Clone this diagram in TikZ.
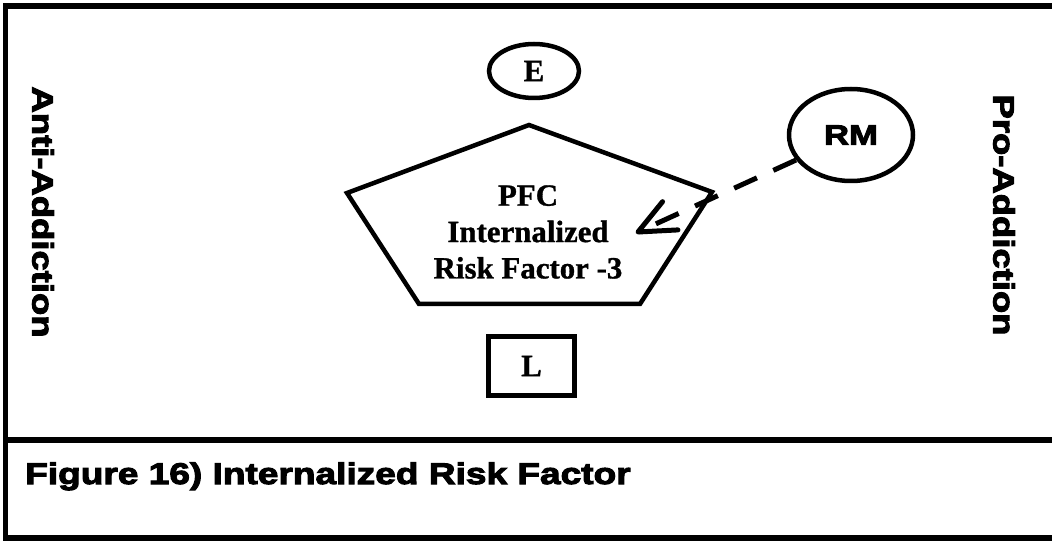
\documentclass[tikz,border=0pt]{standalone}
\usepackage{fontspec}
\usetikzlibrary{shapes.geometric}
\newfontfamily\heavyfont[FakeStretch=1.24,FakeBold=3.5]{Liberation Sans}
\newfontfamily\tnrfont[FakeBold=1]{Liberation Serif}
\begin{document}
\begin{tikzpicture}[x=1bp,y=-1bp,
  frame/.style={line width=5.5bp},
  shapeline/.style={draw, line width=4.5bp},
  seriflabel/.style={font=\tnrfont\bfseries\fontsize{31}{36.5}\selectfont, inner sep=0pt},
  sanslabel/.style={font=\heavyfont\bfseries\fontsize{29.5}{34}\selectfont, inner sep=0pt},
  dashconn/.style={line width=5bp, dash pattern=on 25bp off 18bp},
  barb/.style={line width=5bp, line cap=round, line join=round},
]
\useasboundingbox (0,0) rectangle (1052,541);
% frame
\draw[frame] (1052,6) -- (5.5,6) -- (5.5,538) -- (1052,538);
\draw[frame] (5.5,440) -- (1052,440);
% pentagon
\draw[shapeline, line join=miter] (529,125) -- (712,192) -- (640,304) -- (419,304) -- (347,193) -- cycle;
\node[seriflabel, align=center] (pfc) at (528,232) {PFC\\Internalized\\Risk Factor -3};
% E and L
\node[ellipse, shapeline, minimum width=90bp, minimum height=54bp, seriflabel] (E) at (534,71) {E};
\node[draw, line width=5bp, minimum width=86bp, minimum height=58bp, seriflabel] (L) at (531.5,366) {L};
% RM
\node[ellipse, shapeline, minimum width=124bp, minimum height=92bp, inner sep=0pt,
  font=\heavyfont\bfseries\fontsize{28}{32}\selectfont] (RM) at (851,135) {RM};
\coordinate (tip) at (638,232);
\draw[dashconn] (RM) -- (tip);
\draw[barb] (tip) ++(-51:39) -- (tip) -- ++(-3:40);
% side labels
\node[sanslabel, rotate=-90] (anti) at (43,212) {Anti-Addiction};
\node[sanslabel, rotate=-90] (pro) at (1004,215) {Pro-Addiction};
% caption
\node[sanslabel, font=\heavyfont\bfseries\fontsize{30}{34}\selectfont, anchor=base west] (caption) at (25,484) {Figure 16) Internalized Risk Factor};
\end{tikzpicture}
\end{document}
